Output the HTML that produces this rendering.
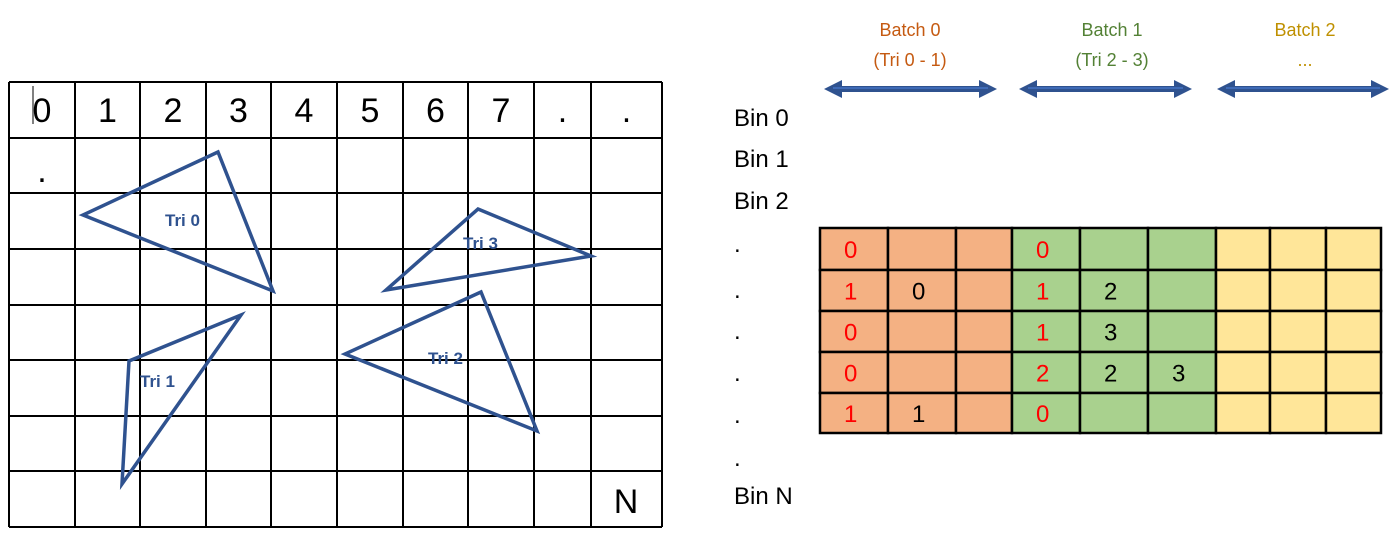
<!DOCTYPE html>
<html><head><meta charset="utf-8"><style>
html,body{margin:0;padding:0;background:#fff;}
svg{display:block;font-family:"Liberation Sans",sans-serif;}
</style></head><body>
<svg id="s" width="1393" height="551" viewBox="0 0 1393 551">
<defs>
<marker id="ah" viewBox="0 0 10 10" refX="5" refY="5" markerWidth="3" markerHeight="4" orient="auto-start-reverse"><path d="M0,0 L10,5 L0,10 z" fill="#2f528f"/></marker>
</defs>
</svg>
<script>
const NS='http://www.w3.org/2000/svg';
const svg=document.getElementById('s');
function mk(tag,attrs,parent){const e=document.createElementNS(NS,tag);for(const k in attrs)e.setAttribute(k,attrs[k]);(parent||svg).appendChild(e);return e;}

// Left screen grid
const colX=[9,75,140,206,271,337,403,468,534,591,662];
const rowY=[82,138,193,249,305,360,416,471,527];
const headerLabels=['0','1','2','3','4','5','6','7','.','.'];
const gridG=mk('g',{});


for(const x of colX){const l=mk('line',{x1:x,y1:rowY[0],x2:x,y2:rowY[rowY.length-1],stroke:'#000','stroke-width':2},gridG);}
for(const y of rowY){mk('line',{x1:colX[0],y1:y,x2:colX[colX.length-1],y2:y,stroke:'#000','stroke-width':2},gridG);}
headerLabels.forEach((t,i)=>{const e=mk('text',{x:(colX[i]+colX[i+1])/2,y:122,'text-anchor':'middle','font-size':34,fill:'#000'},gridG);e.textContent=t;

});
mk('line',{x1:33,y1:86,x2:33,y2:124,stroke:'#000','stroke-width':1},gridG);
let t=mk('text',{x:42,y:182,'text-anchor':'middle','font-size':34},gridG);t.textContent='.';
t=mk('text',{x:626,y:513,'text-anchor':'middle','font-size':34},gridG);t.textContent='N';

// Triangles
const tris=[
 {name:'tri-0',pts:[[218,152],[83,215],[273,291]],label:'Tri 0',lx:165,ly:226},
 {name:'tri-1',pts:[[241,315],[129,361],[122,484]],label:'Tri 1',lx:140,ly:387},
 {name:'tri-2',pts:[[481,292],[345,354],[537,431]],label:'Tri 2',lx:428,ly:364},
 {name:'tri-3',pts:[[478,209],[591,256],[386,290]],label:'Tri 3',lx:463,ly:249}
];
for(const tr of tris){
 const p=mk('polygon',{points:tr.pts.map(p=>p.join(',')).join(' '),fill:'none',stroke:'#2f528f','stroke-width':3.5});
 
 
 const l=mk('text',{x:tr.lx,y:tr.ly,'font-size':17,'font-weight':'bold',fill:'#2f528f'});l.textContent=tr.label;
 
 
}

// Bin labels
const binLabels=['Bin 0','Bin 1','Bin 2','.','.','.','.','.','.','Bin N'];
const binY=[126,167,209,252,298,339,381,423,466,504];
binLabels.forEach((b,i)=>{const e=mk('text',{x:734,y:binY[i],'font-size':24,fill:'#000'});e.textContent=b;

});

// Batches
const batchTitles=['Batch 0','Batch 1','Batch 2'];
const batchSub=['(Tri 0 - 1)','(Tri 2 - 3)','...'];
const batchColors=['#c55a11','#538135','#bf9000'];
const batchFill=['#f4b183','#a9d18e','#ffe699'];
const batchArrow=[[825,996],[1020,1191],[1218,1388]];
const batchCx=[910,1112,1305];
batchTitles.forEach((b,i)=>{
 let e=mk('text',{x:batchCx[i],y:36,'text-anchor':'middle','font-size':18,fill:batchColors[i]});e.textContent=b;
 
 
 e=mk('text',{x:batchCx[i],y:66,'text-anchor':'middle','font-size':18,fill:batchColors[i]});e.textContent=batchSub[i];
 
 
 const a=mk('line',{x1:batchArrow[i][0]+8,y1:89,x2:batchArrow[i][1]-8,y2:89,stroke:'#2f528f','stroke-width':6,'marker-start':'url(#ah)','marker-end':'url(#ah)'});
 
 
 mk('line',{x1:batchArrow[i][0]+8,y1:88,x2:batchArrow[i][1]-8,y2:88,stroke:'#4472c4','stroke-width':1.5});
});

// Bin table
const tColX=[820,888,956,1012,1080,1148,1216,1270,1326,1381];
const tRowY=[228,270,311,352,393,433];
const cellBatch=[0,0,0,1,1,1,2,2,2];
const counts0=['0','1','0','0','1'];
const tris0=[['',''],['0',''],['',''],['',''],['1','']];
const counts1=['0','1','1','2','0'];
const tris1=[['',''],['2',''],['3',''],['2','3'],['','']];
const tblG=mk('g',{});


for(let r=0;r<5;r++)for(let c=0;c<9;c++){
 const rc=mk('rect',{x:tColX[c],y:tRowY[r],width:tColX[c+1]-tColX[c],height:tRowY[r+1]-tRowY[r],fill:batchFill[cellBatch[c]],stroke:'#000','stroke-width':2.5},tblG);
 
 
}
function cellText(c,r,txt,color){if(!txt)return;const e=mk('text',{x:(tColX[c]+tColX[c+1])/2-10,y:(tRowY[r]+tRowY[r+1])/2+9,'font-size':24,fill:color},tblG);e.textContent=txt;

}
for(let r=0;r<5;r++){
 cellText(0,r,counts0[r],'#ff0000');cellText(1,r,tris0[r][0],'#000');cellText(2,r,tris0[r][1],'#000');
 cellText(3,r,counts1[r],'#ff0000');cellText(4,r,tris1[r][0],'#000');cellText(5,r,tris1[r][1],'#000');
}
</script>
</body></html>
